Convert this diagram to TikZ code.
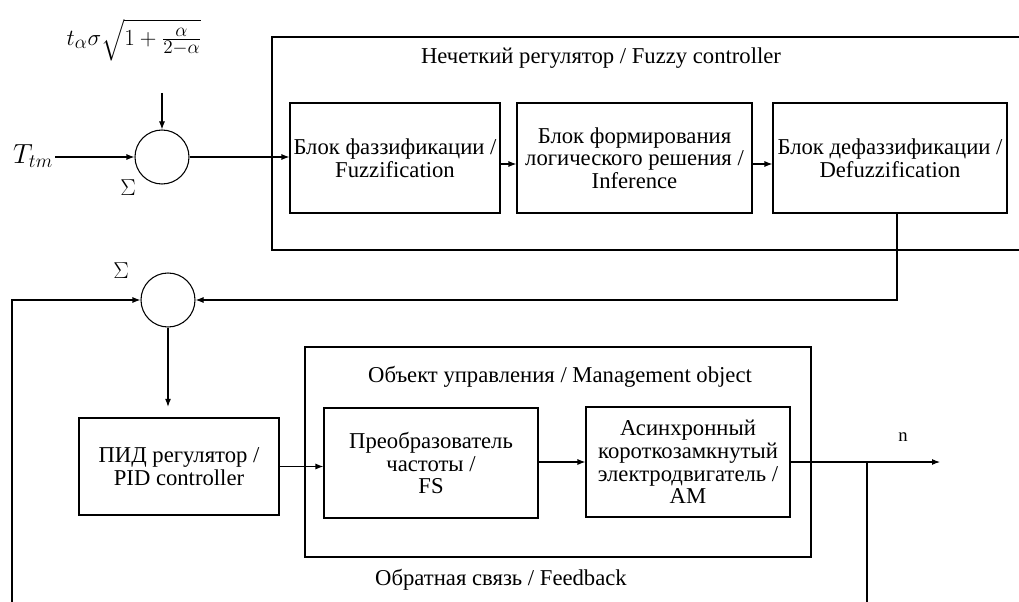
\documentclass[tikz,border=0pt]{standalone}
\usepackage{fontspec}
\setmainfont{Liberation Serif}
\usepackage{amsmath}
\usetikzlibrary{arrows.meta,calc}
\tikzset{
  ln/.style={line width=0.8pt},
  arr/.style={ln,-{Latex[length=6pt,width=4.5pt]}},
  blk/.style={draw,ln,inner sep=0pt,align=center,font=\fontsize{17}{17}\selectfont},
  txt/.style={inner sep=0pt,align=center,font=\fontsize{17}{17}\selectfont},
  sumc/.style={draw,ln,circle,minimum size=40.5pt,inner sep=0pt},
}
\begin{document}
\begin{tikzpicture}[x=0.75pt,y=-0.75pt]
\useasboundingbox (0,0) rectangle (1019,602);
% --- fuzzy controller frame (open to the right edge)
\coordinate (fzTR) at (1019,37);
\coordinate (fzTL) at (272,37);
\coordinate (fzBL) at (272,250);
\coordinate (fzBR) at (1019,250);
\draw[ln] (fzTR) -- (fzTL) -- (fzBL) -- (fzBR);
\node[txt] (fztitle) at (601,58) {Нечеткий регулятор / Fuzzy controller};
\node[blk,minimum width=157.5pt,minimum height=82.5pt] (fuzz) at (395,158) {Блок фаззификации /\\Fuzzification};
\node[blk,minimum width=176.25pt,minimum height=82.5pt] (inf) at (634.5,158) {Блок формирования\\логического решения /\\Inference};
\node[blk,minimum width=175.5pt,minimum height=82.5pt] (defuzz) at (890,158) {Блок дефаззификации /\\Defuzzification};
\draw[arr] ([yshift=-4.5pt]fuzz.east) -- ([yshift=-4.5pt]inf.west);
\draw[arr] ([yshift=-4.5pt]inf.east) -- ([yshift=-4.5pt]defuzz.west);
% --- first summer
\node[sumc] (s1) at (162,157) {};
\node[txt,font=\fontsize{20}{20}\selectfont] (ttm) at (33,156) {$T_{tm}$};
\node[txt,font=\fontsize{18}{18}\selectfont] (sig1) at (128,188) {$\Sigma$};
\node[txt,font=\fontsize{19}{20}\selectfont] (form) at (134,40) {$t_\alpha\sigma\sqrt{1+\frac{\alpha}{2-\alpha}}$};
\coordinate (inA) at (55,157);
\coordinate (inB) at (162,93);
\draw[arr] (inA) -- (s1.west);
\draw[arr] (inB) -- (s1.north);
\draw[arr] (s1.east) -- (s1.east -| fuzz.west);
% --- second summer
\node[sumc] (s2) at (168,300) {};
\node[txt,font=\fontsize{18}{18}\selectfont] (sig2) at (121,271) {$\Sigma$};
\coordinate (dk) at (897,300);
\draw[arr] (defuzz.south -| dk) -- (dk) -- (s2.east);
% --- PID
\node[blk,minimum width=150pt,minimum height=72.75pt] (pid) at (179,466.5) {ПИД регулятор /\\PID controller};
\draw[arr,shorten >=8pt] (s2.south) -- (s2.south |- pid.north);
% --- management object
\node[draw,ln,minimum width=379.5pt,minimum height=157.5pt,inner sep=0pt] (mgmt) at (558,452) {};
\node[txt] (mgtitle) at (560,377) {Объект управления / Management object};
\node[blk,minimum width=160.5pt,minimum height=82.5pt] (fs) at (431,463) {Преобразователь\\частоты /\\FS};
\node[blk,minimum width=153pt,minimum height=82.5pt] (am) at (688,462) {Асинхронный\\короткозамкнутый\\электродвигатель /\\AM};
\draw[arr] (pid.east) -- (pid.east -| fs.west);
\draw[arr] (fs.east |- am.west) -- (am.west);
% --- output
\coordinate (out) at (940,462);
\coordinate (br) at (867,462);
\draw[arr] (am.east) -- (out);
\node[txt,font=\fontsize{14}{16}\selectfont] (n) at (903,437) {n};
% --- feedback
\coordinate (fbR) at (867,602);
\coordinate (fbL) at (12,602);
\coordinate (fbLt) at (12,300);
\draw[ln] (br) -- (fbR);
\draw[arr] (fbL) -- (fbLt) -- (s2.west);
\node[txt] (fbt) at (501,580) {Обратная связь / Feedback};
\end{tikzpicture}
\end{document}
